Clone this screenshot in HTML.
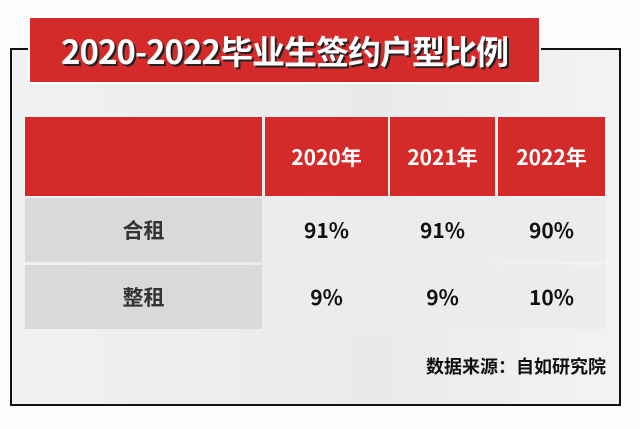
<!DOCTYPE html>
<html><head><meta charset="utf-8"><style>
*{margin:0;padding:0;box-sizing:border-box}
body{width:640px;height:429px;background:#fcfcfd;position:relative;overflow:hidden;font-family:"Liberation Sans","Noto Sans CJK SC",sans-serif}
.frame{position:absolute;left:10px;top:48px;width:611px;height:358px;border:2px solid #111;background:linear-gradient(90deg,#f0f1f3,#e9eaec 60%,#f2f3f5)}
.title{position:absolute;left:28px;top:16px;width:513px;height:68px;background:#d42a29;border:2px solid #fff;color:#fff;font-weight:bold;font-size:33px;line-height:64px;text-align:center;text-shadow:2px 2px 0 #222;letter-spacing:-1px;font-family:"Noto Sans CJK SC",sans-serif}
.cell{position:absolute;display:flex;align-items:center;justify-content:center;font-weight:bold;font-family:"Noto Sans CJK SC",sans-serif}
.h{background:#d42a29;color:#fff;font-size:21px}
.lab{background:#d8d9db;color:#333;font-size:21px}
.val{background:#ebecee;color:#111;font-size:21px}
.src{position:absolute;right:34px;top:353px;font-size:18px;font-weight:bold;color:#111;font-family:"Noto Sans CJK SC",sans-serif}
</style></head><body>
<div class="frame"></div>
<div class="title">2020-2022毕业生签约户型比例</div>
<div id="tbl"></div>
<div class="src">数据来源：自如研究院</div>
<script>
const years=["2020年","2021年","2022年"];
const rowLabels=["合租","整租"];
const shared=[91,91,90];
const whole=[9,9,10];
const series=[shared,whole];
const colX=[[25,237],[265,123],[390,105],[498,107]];
const rowY=[[117,79],[198,64],[265,64]];
const t=document.getElementById('tbl');
function cell(cls,x,w,y,h,txt,name){const d=document.createElement('div');d.className='cell '+cls;d.style.left=x+'px';d.style.top=y+'px';d.style.width=w+'px';d.style.height=h+'px';d.textContent=txt;


t.appendChild(d);}
cell('h',colX[0][0],colX[0][1],rowY[0][0],rowY[0][1],'','header-corner');
years.forEach((y,i)=>cell('h',colX[i+1][0],colX[i+1][1],rowY[0][0],rowY[0][1],y,'header-year'));
rowLabels.forEach((r,j)=>{cell('lab',colX[0][0],colX[0][1],rowY[j+1][0],rowY[j+1][1],r,'row-label');
series[j].forEach((v,i)=>cell('val',colX[i+1][0],colX[i+1][1],rowY[j+1][0],rowY[j+1][1],v+'%','value-cell'));});
</script>
</body></html>
